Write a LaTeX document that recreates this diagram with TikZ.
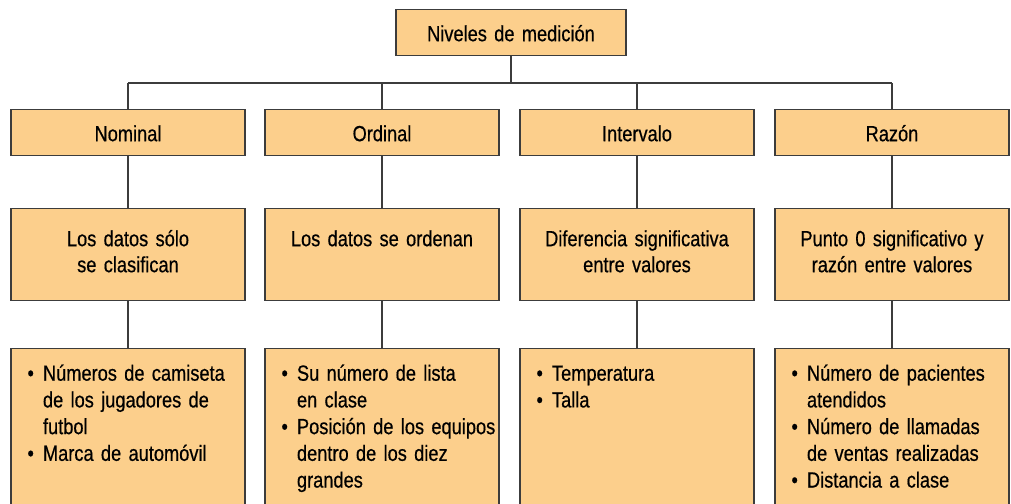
\documentclass[tikz,border=0pt]{standalone}
\usepackage{fontspec}
\setmainfont{Liberation Sans}[FakeStretch=0.83, WordSpace=0.62, FakeBold=0.5]
\definecolor{boxfill}{RGB}{252,207,140}
\definecolor{boxline}{RGB}{60,60,60}
\newcommand{\itm}{\hspace*{0.33cm}\makebox[0.31cm][l]{\textbullet}}
\newcommand{\cont}{\hspace*{0.64cm}}
\tikzset{
  box/.style={draw=boxline, fill=boxfill, line width=0.8pt, anchor=north,
    inner xsep=0.19cm, inner ysep=0.16cm,
    minimum width=4.68cm, text width=4.3cm, align=center,
    font=\fontsize{12.5pt}{14.8pt}\selectfont},
  levelbox/.style={box, text height=0.47cm, text depth=0.13cm},
  descbox/.style={box, text height=0.59cm, text depth=0.93cm},
  examplebox/.style={box, text height=0.48cm, text depth=2.8cm, inner xsep=0pt,
    text width=4.68cm, align=left, font=\fontsize{12.5pt}{15.2pt}\selectfont},
  conn/.style={draw=boxline, line width=0.6pt}
}
\begin{document}
\begin{tikzpicture}
        \useasboundingbox (0, 0) rectangle (20.22, -10.08);
        \clip (0, 0) rectangle (20.22, -10.08);

        \node[levelbox, minimum width=4.6cm, text width=4.22cm] (niveles) at (10.22, -0.18) {Niveles de medición};
        \coordinate (bus) at (10.22, -1.66);

        \node[levelbox] (nominal) at (2.56, -2.18) {Nominal};
        \node[levelbox] (ordinal) at (7.64, -2.18) {Ordinal};
        \node[levelbox] (intervalo) at (12.74, -2.18) {Intervalo};
        \node[levelbox] (razon) at (17.84, -2.18) {Razón};

        \node[descbox] (nominaldesc) at (2.56, -4.16) {Los datos sólo\\se clasifican};
        \node[descbox] (ordinaldesc) at (7.64, -4.16) {Los datos se ordenan};
        \node[descbox] (intervalodesc) at (12.74, -4.16) {Diferencia significativa\\entre valores};
        \node[descbox] (razondesc) at (17.84, -4.16) {Punto 0 significativo y\\razón entre valores};

        \node[examplebox] (nominalej) at (2.56, -6.96) {\itm Números de camiseta\\\cont de los jugadores de\\\cont futbol\\\itm Marca de automóvil};
        \node[examplebox] (ordinalej) at (7.64, -6.96) {\itm Su número de lista\\\cont en clase\\\itm Posición de los equipos\\\cont dentro de los diez\\\cont grandes};
        \node[examplebox] (intervaloej) at (12.74, -6.96) {\itm Temperatura\\\itm Talla};
        \node[examplebox] (razonej) at (17.84, -6.96) {\itm Número de pacientes\\\cont atendidos\\\itm Número de llamadas\\\cont de ventas realizadas\\\itm Distancia a clase};

        \draw[conn] (niveles.south) -- (bus);
        \draw[conn] (nominal.north |- bus) -- (razon.north |- bus);
        \draw[conn] (nominal.north |- bus) -- (nominal.north);
        \draw[conn] (ordinal.north |- bus) -- (ordinal.north);
        \draw[conn] (intervalo.north |- bus) -- (intervalo.north);
        \draw[conn] (razon.north |- bus) -- (razon.north);

        \draw[conn] (nominal.south) -- (nominaldesc.north);
        \draw[conn] (ordinal.south) -- (ordinaldesc.north);
        \draw[conn] (intervalo.south) -- (intervalodesc.north);
        \draw[conn] (razon.south) -- (razondesc.north);

        \draw[conn] (nominaldesc.south) -- (nominalej.north);
        \draw[conn] (ordinaldesc.south) -- (ordinalej.north);
        \draw[conn] (intervalodesc.south) -- (intervaloej.north);
        \draw[conn] (razondesc.south) -- (razonej.north);
    \end{tikzpicture}
\end{document}
